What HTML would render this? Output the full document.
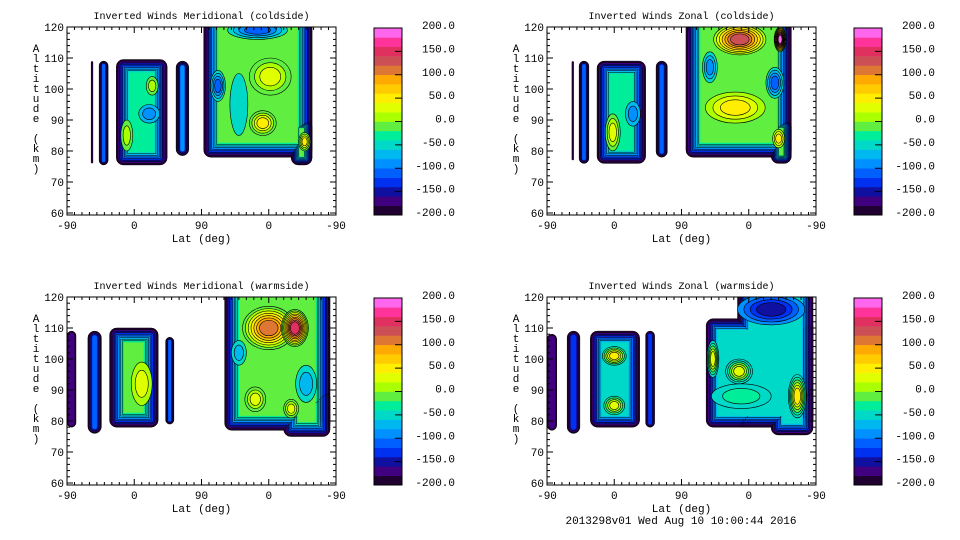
<!DOCTYPE html>
<html><head><meta charset="utf-8"><style>
html,body{margin:0;padding:0;background:#fff;}
svg{display:block;font-family:"Liberation Mono",monospace;}
</style></head><body>
<svg id="fig" width="960" height="540" viewBox="0 0 960 540" xmlns="http://www.w3.org/2000/svg">
<rect width="960" height="540" fill="#fff"/>
<text x="681" y="524" font-size="11" text-anchor="middle">2013298v01 Wed Aug 10 10:00:44 2016</text>
</svg>
<script>
// colour bands, -200 to 200 in steps of 20
const bandColors = ["#200030","#400080","#1010a0","#0030f0","#0060ff","#0090ff","#00b8f0","#00d8c8","#00ee99","#60ee40",
"#aaff00","#e0ff00","#ffee00","#ffcc00","#ffaa00","#dd7733","#cc4f55","#e03060","#ff3399","#ff66ee"];
const cbarTicks = [200,150,100,50,0,-50,-100,-150,-200];
const xTickLabels = ["-90","0","90","0","-90"];
const yTicks = [60,70,80,90,100,110,120];

const titles = ["Inverted Winds Meridional (coldside)","Inverted Winds Zonal (coldside)","Inverted Winds Meridional (warmside)","Inverted Winds Zonal (warmside)"];
// regions: [u0,u1,alt0,alt1,value]  (u: 0..360 along lat axis)
const regionsTL = [[32,35,76,109,-200],[43,55,75.5,109,-130],[66,134,75.5,109.5,-40],[146,163,78.5,109,-110],[183,328,78,130,-30],[300,328,75.5,90,-30]];
const blobsTL = [[114,101,8,3,0],[80,85,8,5,0],[110,92,14,3,-70],[272,104,28,6,30],[262,89,18,4,40],[202,101,10,5,-110],[255,119,40,3,-110],[318,83,8,3,50],[230,95,12,10,-50]];
const regionsTR = [[33,36,77,109,-200],[43,56,76,109,-130],[67,132,76,109,-40],[146,161,78,109,-120],[186,327,78,130,-20],[300,327,76,90,-20]];
const blobsTR = [[88,86,10,6,20],[115,92,10,4,-80],[258,116,35,5,110],[312,116,8,4,170],[252,94,40,5,40],[305,102,12,5,-90],[218,107,10,5,-70],[310,84,8,3,30]];
const regionsBL = [[0,12,78,109,-180],[28,46,76,109,-130],[57,122,78,110,-20],[132,143,79,107,-130],[211,352,77,130,-30],[290,352,75,90,-30]];
const blobsBL = [[100,92,14,7,20],[270,110,35,7,100],[305,110,18,6,140],[252,87,14,4,30],[230,102,10,4,-70],[300,84,10,3,20],[320,92,14,6,-60]];
const regionsBR = [[0,13,77,108,-180],[27,44,76,109,-140],[58,124,78,109,-60],[132,144,78,109,-140],[213,356,78,113,-70],[255,356,78,130,-70],[300,356,75.5,90,-70]];
const blobsBR = [[90,101,16,3,40],[90,85,14,3,10],[300,116,45,5,-140],[222,100,8,6,30],[257,96,18,4,20],[335,88,12,7,40],[260,88,40,4,-40]];

const panelRegions=[regionsTL,regionsTR,regionsBL,regionsBR];
const panelBlobs=[blobsTL,blobsTR,blobsBL,blobsBR];
const NS="http://www.w3.org/2000/svg";
const svg=document.getElementById('fig');
function mk(t,a,p){const e=document.createElementNS(NS,t);for(const k in a)e.setAttribute(k,a[k]);(p||svg).appendChild(e);return e;}
function band(v){let i=Math.floor((v+200)/20);return bandColors[Math.max(0,Math.min(19,i))];}
const W=269,H=188;
const origins=[[67,27],[547,27],[67,297],[547,297]];
origins.forEach((o,pi)=>{
  const [x0,y0]=o;
  const xs=u=>x0+u/360*W;
  const ys=a=>y0+(120-a)/(120-59.35)*H;
  const g=mk('g',{});
  
  
  const cp=mk('clipPath',{id:'cp'+pi},g);mk('rect',{x:x0,y:y0,width:W,height:H},cp);
  const pg=mk('g',{'clip-path':'url(#cp'+pi+')'},g);
  
  
  const regs=panelRegions[pi];
  let maxN=0;regs.forEach(r=>{maxN=Math.max(maxN,Math.round((r[4]+200)/20)+1);});
  for(let i=0;i<maxN;i++){
    regs.forEach(r=>{
      const [u0,u1,a0,a1,v]=r;
      const X=xs(u0),X2=xs(u1),Y=ys(a1),Y2=ys(a0);
      const n=Math.round((v+200)/20)+1;
      if(i>=n)return;
      const avail=Math.min(X2-X,Y2-Y)/2;
      const step=Math.min(1.6,avail/(n+1));
      const ins=i*step;const w=X2-X-2*ins,h=Y2-Y-2*ins;if(w<=0||h<=0)return;
      const rr=Math.max(0,7-ins);
      const e=mk('rect',{x:X+ins,y:Y+ins,width:w,height:h,rx:Math.min(rr,w/2),fill:band(-200+i*20),stroke:i==n-1?'none':'#000','stroke-width':0.5},pg);
      
      
    });
  }
  panelBlobs[pi].forEach(b=>{
    const [u,a,ru,ra,v]=b;
    let base=-40;regs.forEach(r=>{if(u>=r[0]&&u<=r[1]&&a>=r[2]&&a<=r[3])base=r[4];});
    const dir=v>base?1:-1;const n=Math.max(1,Math.round(Math.abs(v-base)/20));
    for(let k=1;k<=n;k++){
      const s=1-(k-1)/n*0.75;
      const e=mk('ellipse',{cx:xs(u),cy:ys(a),rx:ru/360*W*s,ry:ra/(120-59.35)*H*s,fill:band(base+dir*k*20+(dir>0?1:-1)),stroke:'#000','stroke-width':0.6},pg);
      
      
    }
  });
  const fr=mk('rect',{x:x0,y:y0,width:W,height:H,fill:'none',stroke:'#000','stroke-width':1},g);
  
  
  for(let u=0;u<=360;u+=10){const X=xs(u),L=(u%90==0)?6:3;
    mk('line',{x1:X,x2:X,y1:y0+H,y2:y0+H-L,stroke:'#000'},g);mk('line',{x1:X,x2:X,y1:y0,y2:y0+L,stroke:'#000'},g);}
  xTickLabels.forEach((t,i)=>{const e=mk('text',{x:xs(i*90),y:y0+H+14,'font-size':11,'text-anchor':'middle'},g);e.textContent=t;
    });
  for(let a=60;a<=120;a+=2){const Y=ys(a),L=(a%10==0)?6:3;
    mk('line',{x1:x0,x2:x0+L,y1:Y,y2:Y,stroke:'#000'},g);mk('line',{x1:x0+W,x2:x0+W-L,y1:Y,y2:Y,stroke:'#000'},g);}
  yTicks.forEach(a=>{const e=mk('text',{x:x0-3,y:ys(a)+4,'font-size':11,'text-anchor':'end'},g);e.textContent=a;
    });
  const t=mk('text',{x:x0+W/2,y:y0-8,'font-size':10,'text-anchor':'middle'},g);t.textContent=titles[pi];
  
  const xl=mk('text',{x:x0+W/2,y:y0+H+27,'font-size':11,'text-anchor':'middle'},g);xl.textContent='Lat (deg)';
  
  const yl=mk('text',{x:x0-31,y:0,'font-size':11,'text-anchor':'middle'},g);
  
  "Altitude (km)".split('').forEach((c,i)=>{const ts=mk('tspan',{x:x0-31,y:y0+25+i*10},yl);ts.textContent=c;});
  const cx=x0+307,cw=28;
  const cb=mk('g',{},g);
  const cys=v=>y0+1+(200-v)/400*(H-1);
  bandColors.forEach((c,i)=>{const v=-200+i*20;mk('rect',{x:cx,y:cys(v+20),width:cw,height:cys(v)-cys(v+20)+0.3,fill:c},cb);});
  mk('rect',{x:cx,y:cys(200),width:cw,height:cys(-200)-cys(200),fill:'none',stroke:'#000'},cb);
  cbarTicks.forEach(v=>{mk('line',{x1:cx+cw,x2:cx+cw-7,y1:cys(v),y2:cys(v),stroke:'#000'},cb);
    const e=mk('text',{x:cx+81,y:cys(v)+1,'font-size':11,'text-anchor':'end'},cb);e.textContent=v.toFixed(1);
    });
});
</script>
</body></html>
